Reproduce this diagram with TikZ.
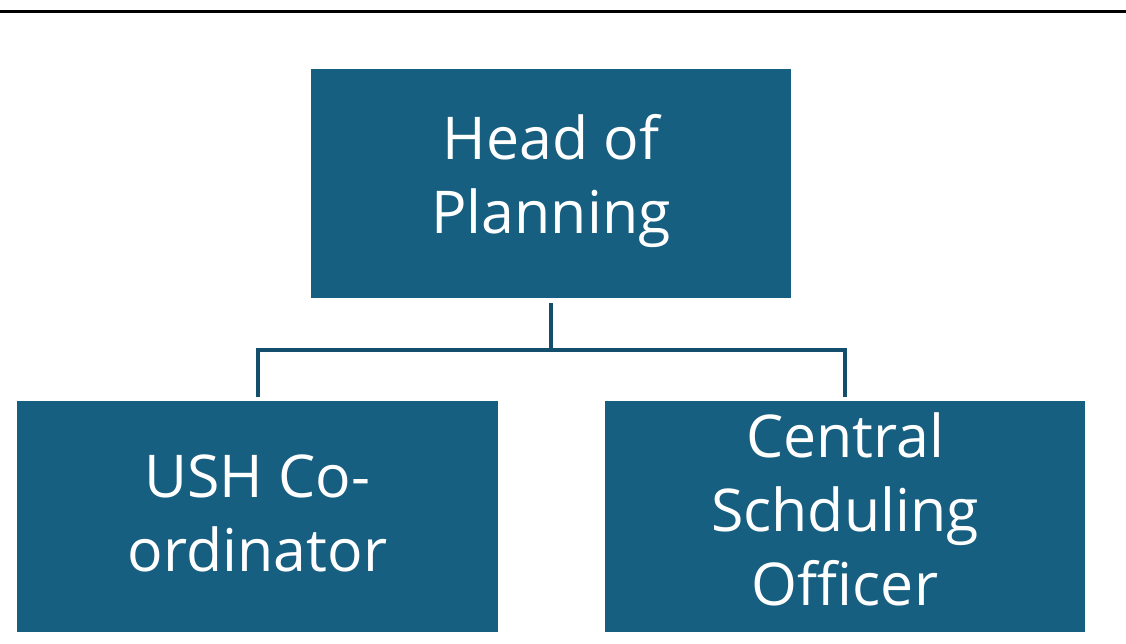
\documentclass[tikz,border=0pt]{standalone}
\usepackage{fontspec}
\setmainfont{Open Sans}
\definecolor{boxblue}{HTML}{175F80}
\definecolor{linkblue}{HTML}{134F6C}
\begin{document}
\begin{tikzpicture}[x=1pt,y=-1pt,
  orgbox/.style={fill=boxblue, draw=none, text=white, align=center,
    font=\fontsize{59}{74}\selectfont},
  link/.style={draw=linkblue, line width=3.5pt}]
\useasboundingbox (0,0) rectangle (1126,643);
% rule across the top
\draw[line width=3pt] (0,11) -- (1126,11);
% boxes
\fill[boxblue] (311,69) rectangle (791,298);
\node[orgbox] (head) at (551,181) {Head of\\Planning};
\fill[boxblue] (17,401) rectangle (498,632);
\node[orgbox] (ush) at (257.5,513) {USH Co-\\ordinator};
\fill[boxblue] (605,401) rectangle (1085,632);
\node[orgbox] (cso) at (845,509) {Central\\Schduling\\Officer};
% connectors
\coordinate (hb) at (551,303);
\coordinate (bus) at (551,350);
\coordinate (ut) at (258,397);
\coordinate (ct) at (845,397);
\draw[link] (hb) -- (bus);
\draw[link] (ut) |- (bus) -| (ct);
\end{tikzpicture}
\end{document}
